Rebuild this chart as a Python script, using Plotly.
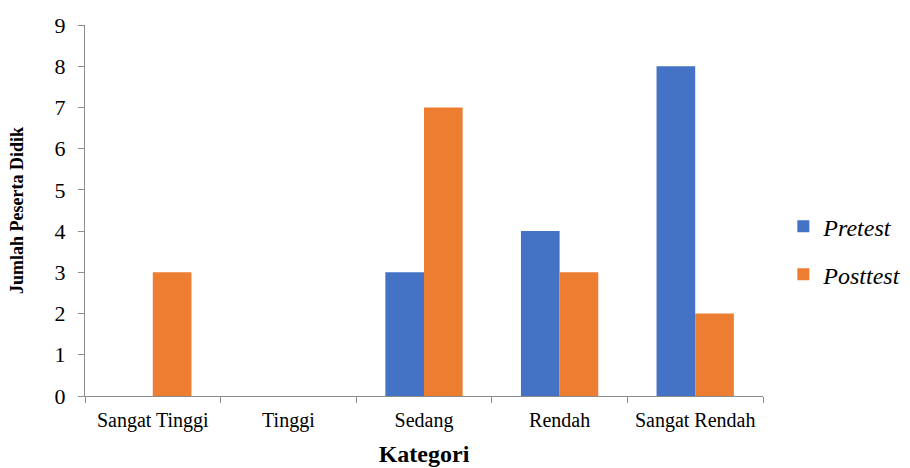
import plotly.graph_objects as go

# Jumlah peserta didik per kategori, sebelum dan sesudah perlakuan
kategori = ["Sangat Tinggi", "Tinggi", "Sedang", "Rendah", "Sangat Rendah"]
pretest = [0, 0, 3, 4, 8]
posttest = [3, 0, 7, 3, 2]
y_ticks = list(range(0, 10))

SERIF = "Liberation Serif"
AXIS_GREY = "#8c8c8c"

fig = go.Figure()
fig.add_trace(go.Bar(
    x=kategori, y=pretest, name="<i>Pretest</i>",
    marker=dict(color="#4472C4", line=dict(width=0)),
    legendgroup="pre",
))
fig.add_trace(go.Bar(
    x=kategori, y=posttest, name="<i>Posttest</i>",
    marker=dict(color="#ED7D31", line=dict(width=0)),
    legendgroup="post",
))

fig.update_layout(
    width=910, height=468,
    margin=dict(l=85, r=147, t=25, b=72, autoexpand=False),
    paper_bgcolor="white", plot_bgcolor="white",
    barmode="group", bargap=0.43, bargroupgap=0,
    font=dict(family=SERIF, color="black", size=20),
    showlegend=True,
    legend=dict(
        x=1.030, y=0.392, xanchor="left", yanchor="middle",
        font=dict(family=SERIF, size=24, color="black"),
        tracegroupgap=14, itemwidth=30,
        bgcolor="rgba(0,0,0,0)",
    ),
    xaxis=dict(
        type="category",
        showline=True, linecolor=AXIS_GREY, linewidth=1,
        ticks="outside", tickson="boundaries", ticklen=6, tickcolor=AXIS_GREY,
        ticklabelstandoff=6,
        showgrid=False, tickfont=dict(family=SERIF, size=20),
        title=dict(text="<b>Kategori</b>", font=dict(family=SERIF, size=24), standoff=14),
    ),
    yaxis=dict(
        range=[0, 9], tickvals=y_ticks,
        showline=True, linecolor=AXIS_GREY, linewidth=1,
        ticks="outside", ticklen=6, tickcolor=AXIS_GREY, ticklabelstandoff=8,
        showgrid=False, zeroline=False, tickfont=dict(family=SERIF, size=22),
        title=dict(text="<b>Jumlah Peserta Didik</b>", font=dict(family=SERIF, size=18), standoff=26),
    ),
)

fig.write_html("out.html")
